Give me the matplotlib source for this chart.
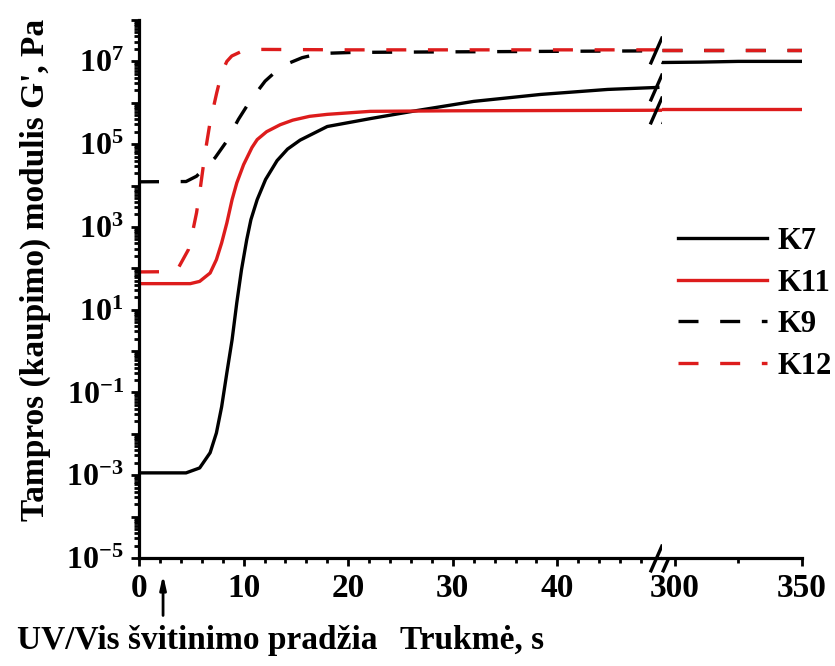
import matplotlib
matplotlib.use("Agg")
import matplotlib.pyplot as plt
import numpy as np
from matplotlib.path import Path
from matplotlib.ticker import FixedLocator, FuncFormatter, NullFormatter

plt.rcParams["font.family"] = "Liberation Serif"
plt.rcParams["font.weight"] = "bold"
plt.rcParams["mathtext.fontset"] = "custom"
plt.rcParams["mathtext.rm"] = "Liberation Serif:bold"
plt.rcParams["mathtext.bf"] = "Liberation Serif:bold"
plt.rcParams["mathtext.default"] = "bf"
plt.rcParams["axes.unicode_minus"] = False

# time, s  /  G', Pa  (first segment 0-50 s)
k7_t = [0, 4.5, 5.8, 6.8, 7.4, 7.9, 8.4, 8.9, 9.35, 9.8, 10.3, 10.7, 11.3, 12.1, 13.2,
        14.2, 15.4, 18.0, 22.2, 26.6, 32.0, 38.4, 44.8, 49.6]
k7_g = [1.14e-3, 1.14e-3, 1.5e-3, 3.5e-3, 1.05e-2, 4.5e-2, 0.30, 1.88, 14.8, 93, 493,
        1500, 4580, 1.4e4, 4.0e4, 7.6e4, 1.25e5, 2.67e5, 4.18e5, 6.5e5, 1.08e6, 1.59e6,
        2.1e6, 2.35e6]

k11_t = [0, 4.9, 5.8, 6.8, 7.4, 7.9, 8.4, 8.9, 9.35, 10.0, 10.8, 11.3, 12.2, 13.5, 14.7,
         16.3, 18.0, 22.1, 30, 40, 50]
k11_g = [42.6, 42.6, 48.3, 77, 162, 410, 1250, 4580, 1.16e4, 3.2e4, 8.3e4, 1.29e5, 2.0e5,
         2.95e5, 3.8e5, 4.7e5, 5.25e5, 6.2e5, 6.4e5, 6.5e5, 6.6e5]

k9_t = [0, 4.5, 5.5, 7.27, 8.39, 9.5, 10.6, 12.06, 13.65, 15.6, 17.3, 20.5, 30, 40, 50]
k9_g = [1.23e4, 1.25e4, 1.68e4, 4.68e4, 1.18e5, 3.95e5, 1.09e6, 3.34e6, 7.7e6, 1.23e7,
        1.55e7, 1.65e7, 1.7e7, 1.75e7, 1.8e7]

k12_t = [0, 3.0, 3.76, 4.72, 5.1, 5.5, 5.84, 6.32, 6.79, 7.43, 7.91, 8.4, 8.87, 9.8, 10.94,
         20, 30, 40, 50]
k12_g = [81.7, 83, 102, 282, 708, 2190, 7940, 6.17e4, 3.31e5, 1.74e6, 5.37e6, 1.0e7,
         1.35e7, 1.74e7, 1.95e7, 1.9e7, 1.9e7, 1.9e7, 1.9e7]

# second segment 295-350 s
k7_t2 = [295, 310, 325, 350]
k7_g2 = [9.4e6, 9.6e6, 1.0e7, 1.0e7]
k11_t2 = [295, 350]
k11_g2 = [7.0e5, 7.0e5]
k9_t2 = [295, 350]
k9_g2 = [1.9e7, 1.9e7]
k12_t2 = [295, 350]
k12_g2 = [1.9e7, 1.9e7]

names = ["K7", "K11", "K9", "K12"]
colours = ["black", "#dd1c1c", "black", "#dd1c1c"]
styles = ["-", "-", (0, (6, 6.5)), (0, (6, 6.5))]
seg1 = [(k7_t, k7_g), (k11_t, k11_g), (k9_t, k9_g), (k12_t, k12_g)]
seg2 = [(k7_t2, k7_g2), (k11_t2, k11_g2), (k9_t2, k9_g2), (k12_t2, k12_g2)]

fig = plt.figure(figsize=(8.35, 6.66), dpi=100)
gs = fig.add_gridspec(1, 2, width_ratios=[523, 140], wspace=0,
                      left=139/835, right=802/835, bottom=1-558/666, top=1-20/666)
ax1 = fig.add_subplot(gs[0])
ax2 = fig.add_subplot(gs[1], sharey=ax1)

handles = []
for i in range(4):
    l, = ax1.plot(seg1[i][0], seg1[i][1], color=colours[i], ls=styles[i], lw=2.4, label=names[i])
    ax2.plot(seg2[i][0], seg2[i][1], color=colours[i], ls=styles[i], lw=2.4)
    handles.append(l)

ax1.set_yscale("log")
ax1.set_ylim(1e-5, 1e8)
ax1.set_xlim(0, 50)
ax2.set_xlim(295, 350)

exps = np.arange(-5, 9)
ax1.yaxis.set_major_locator(FixedLocator(10.0**exps))
ax1.yaxis.set_major_formatter(FuncFormatter(
    lambda v, p: r"$10^{%d}$" % round(np.log10(v)) if round(np.log10(v)) % 2 != 0 else ""))
minors = [m * 10.0**e for e in range(-5, 8) for m in range(2, 10)]
ax1.yaxis.set_minor_locator(FixedLocator(minors))
ax1.yaxis.set_minor_formatter(NullFormatter())

ax1.set_xticks([0, 10, 20, 30, 40])
ax1.set_xticks(np.arange(0, 50, 2), minor=True)
ax2.set_xticks([300, 350])
ax2.set_xticks([325], minor=True)

for ax in (ax1, ax2):
    ax.spines["top"].set_visible(False)
    ax.spines["right"].set_visible(False)
    for s in ax.spines.values():
        s.set_linewidth(2.3)
    ax.tick_params(which="major", direction="out", length=6, width=2, pad=5)
    ax.tick_params(which="minor", direction="out", length=3.5, width=2)
    ax.tick_params(axis="x", labelsize=24)
    ax.tick_params(axis="y", labelsize=23)
ax2.spines["left"].set_visible(False)
ax2.tick_params(axis="y", which="both", left=False, labelleft=False)

# break marks "//"
brk = Path([(-0.88, -1), (0.0, 1), (0.0, -1), (0.88, 1)],
           [Path.MOVETO, Path.LINETO, Path.MOVETO, Path.LINETO])
for lev in [1e-5, 6.6e5, 2.35e6, 1.9e7]:
    ax1.plot([50], [lev], marker=brk, ms=20, mew=2.4, mec="black", mfc="none",
             clip_on=False, zorder=5, ls="none")

fig.legend(handles, names, loc="upper left", bbox_to_anchor=(678/835, 1-227/666),
           frameon=False, fontsize=22, handlelength=2.9, handletextpad=0.36,
           labelspacing=0.41, borderpad=0, borderaxespad=0)

ax1.annotate("", xy=(2.3, -0.026), xycoords=("data", "axes fraction"),
             xytext=(2.3, -0.112), textcoords=("data", "axes fraction"),
             arrowprops=dict(arrowstyle="-|>,head_width=0.18,head_length=0.8", lw=2, color="black"))

fig.text(197/835, 1-640/666, "UV/Vis švitinimo pradžia", fontsize=24, ha="center", va="center")
fig.text(472/835, 1-640/666, "Trukmė, s", fontsize=24, ha="center", va="center")
fig.text(35/835, 1-270/666, "Tampros (kaupimo) modulis G', Pa", fontsize=24,
         rotation=90, ha="center", va="center")

plt.savefig("out.png", dpi=100)
